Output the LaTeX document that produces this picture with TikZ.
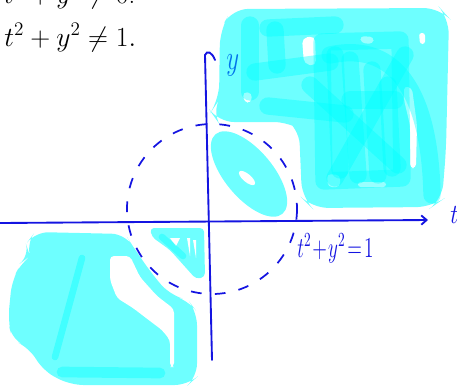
\documentclass[tikz,border=0pt]{standalone}
\usetikzlibrary{arrows.meta}
\definecolor{pen}{RGB}{20,20,225}
\definecolor{penlight}{RGB}{0,115,235}
\definecolor{hl}{RGB}{0,255,255}
\begin{document}
\begin{tikzpicture}[x=0.75pt,y=-0.75pt,
  hlfill/.style={fill=hl,fill opacity=0.57},
  hlpen/.style={draw=hl,draw opacity=0.4,line width=13pt,line cap=round,line join=round},
  gapfill/.style={fill=white},
  axis/.style={draw=pen,line width=1.4pt,line cap=round},
  ring/.style={draw=pen,line width=1.3pt,dash pattern=on 8pt off 10pt},
  txt/.style={inner sep=0pt,anchor=base west}]
\useasboundingbox (0,0) rectangle (457,387);

% ---------- top-right region ----------
\fill[hlfill,rounded corners=12] (232,9) -- (440,8) -- (449,18) -- (446,150) -- (442,200) -- (432,207) -- (312,208) -- (302,198) -- (299,128) -- (290,122) -- (218,122) -- (211,112) -- (219,100) -- (220,30) -- cycle;
\fill[gapfill,rounded corners=4] (302,38) -- (315,36) -- (316,66) -- (304,64) -- cycle;
\fill[gapfill,rounded corners=3] (360,36) -- (374,37) -- (373,44) -- (361,43) -- cycle;
\fill[gapfill,rounded corners=3] (243,92) -- (252,93) -- (251,103) -- (244,102) -- cycle;
\fill[gapfill,rounded corners=2] (419,33) -- (425,33) -- (425,44) -- (420,44) -- cycle;
\fill[gapfill,rounded corners=3] (404,86) -- (412,88) -- (417,125) -- (416,168) -- (410,168) -- (410,125) -- (404,100) -- cycle;
\fill[gapfill,rounded corners=3] (327,174) -- (340,175) -- (340,187) -- (328,187) -- cycle;
\fill[gapfill,rounded corners=2] (358,182) -- (386,182) -- (386,187) -- (358,187) -- cycle;
% scribbles
\draw[hlpen] (322,42) -- (400,40) -- (402,178) -- (324,181) -- cycle;
\draw[hlpen] (250,25) -- (250,92);
\draw[hlpen] (275,30) -- (277,65);
\draw[hlpen] (268,28) -- (335,25);
\draw[hlpen] (255,72) -- (330,62);
\draw[hlpen] (268,106) -- (345,114);
\draw[hlpen] (335,55) -- (340,170);
\draw[hlpen] (350,60) -- (358,175);
\draw[hlpen] (372,70) -- (378,175);
\draw[hlpen] (388,85) -- (392,168);
\draw[hlpen] (335,178) -- (405,55);
\draw[hlpen] (310,85) -- (398,165);
\draw[hlpen] (350,100) -- (395,100);
\draw[hlpen] (330,55) .. controls (400,40) and (430,100) .. (432,195);

% ---------- inner blob ----------
\fill[hlfill,rotate around={-50:(249,174)}] (249,174) ellipse (52 and 24);
\fill[gapfill,rotate around={-40:(247,178)}] (247,178) ellipse (10 and 4);

% ---------- bottom-left region ----------
\fill[hlfill,rounded corners=10] (35,232) -- (125,234) -- (134,248) -- (152,274) -- (170,295) -- (188,300) -- (197,312) -- (197,377) -- (188,385) -- (70,385) -- (42,370) -- (30,348) -- (12,340) -- (8,320) -- (12,280) -- (22,262) -- (30,256) -- (26,244) -- cycle;
\fill[gapfill,rounded corners=3] (110,256) -- (130,256) -- (140,277) -- (157,296) -- (174,309) -- (174,367) -- (170,367) -- (170,340) -- (162,330) -- (150,321) -- (133,308) -- (117,298) -- (110,280) -- cycle;
\draw[hlpen,line width=5pt] (82,258) -- (55,357);
\draw[hlpen,line width=8pt] (62,372) -- (160,373);

% ---------- small triangle near origin ----------
\fill[hlfill,rounded corners=3] (150,228) -- (204,228) -- (205,277) -- (196,279) -- (170,250) -- (152,237) -- cycle;
\fill[gapfill] (170,238) -- (180,238) -- (176,246) -- cycle;
\fill[gapfill] (187,238) -- (190,238) -- (190,256) -- cycle;
\fill[gapfill] (193,240) -- (196,240) -- (196,258) -- cycle;
\draw[hlpen,line width=5pt] (162,237) -- (183,256);

% ---------- axes and circle ----------
\coordinate (tL) at (0,223);
\coordinate (tR) at (428,220);
\coordinate (yB) at (212,360);
\coordinate (yT) at (205,55);
\coordinate (yH) at (215,60);
\draw[axis,-{Straight Barb[length=4pt,width=7pt]}] (tL) -- (tR);
\draw[axis] (yB) -- (yT) .. controls (207,50) and (212,52) .. (yH);
\coordinate (O) at (212,209);
\draw[ring] (O) circle (85);

% ---------- texts ----------
\node[txt,text=penlight,font=\fontsize{20}{24}\selectfont] (ylab) at (226,69) {\scalebox{0.9}[1.25]{$y$}};
\node[txt,text=pen,font=\fontsize{14}{16}\selectfont] (eq) at (297,257) {\scalebox{1}[1.5]{$t^2\!+\!y^2\!=\!1$}};
\node[txt,text=pen,font=\fontsize{18}{20}\selectfont] (tlab) at (450,223) {\scalebox{1}[1.2]{$t$}};
\node[txt,font=\fontsize{20}{24}\selectfont] (line1) at (4,3) {$t^2+y^2\ne 0$:};
\node[txt,font=\fontsize{20}{24}\selectfont] (line2) at (4,46) {$t^2+y^2\ne 1.$};
\end{tikzpicture}
\end{document}
